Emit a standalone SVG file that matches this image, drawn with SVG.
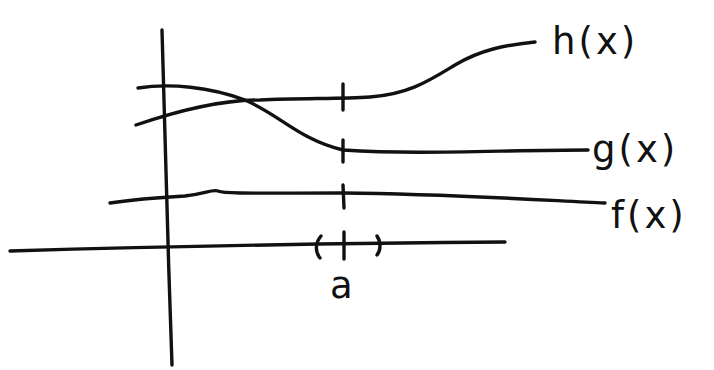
<svg xmlns="http://www.w3.org/2000/svg" width="714" height="370" viewBox="0 0 714 370">
<style>
.s{fill:none;stroke:#111;stroke-width:3.4;stroke-linecap:round;stroke-linejoin:round}
.t{font-family:"DejaVu Sans",sans-serif;font-size:37px;fill:#111;letter-spacing:3px}
</style>
<rect width="714" height="370" fill="#fff"/>
<g id="axes">
<path class="s" d="M162,30 C164,120 168,250 172,365"/>
<path class="s" d="M10,251 C150,247 350,243 505,242"/>
</g>
<g id="connectors">
<path id="f" class="s" d="M110,203 C130,200 150,198 185,196 C205,194 212,189 218,191 C225,194 260,193 343,193 C450,194 540,200 605,203"/>
<path id="g" class="s" d="M138,88 C170,83 210,87 245,100 C280,115 300,140 343,150 C420,155 500,150 588,150"/>
<path id="h" class="s" d="M136,125 C180,110 220,100 260,100 C300,98 340,99 370,97 C410,94 430,80 455,65 C480,50 505,45 535,42"/>
<path class="s" d="M343,84 L343,110 M343,140 L343,162 M343,185 L344,208 M344,232 L344,259"/>
<path class="s" d="M321,236 C315,243 315,252 320,258 M377,236 C381,242 381,250 377,255"/>
</g>
<g id="label-h"><text class="t" x="552" y="54">h(x)</text></g>
<g id="label-g"><text class="t" x="592" y="162">g(x)</text></g>
<g id="label-f"><text class="t" x="611" y="228">f(x)</text></g>
<g id="label-a"><text class="t" x="330" y="298">a</text></g>
</svg>
